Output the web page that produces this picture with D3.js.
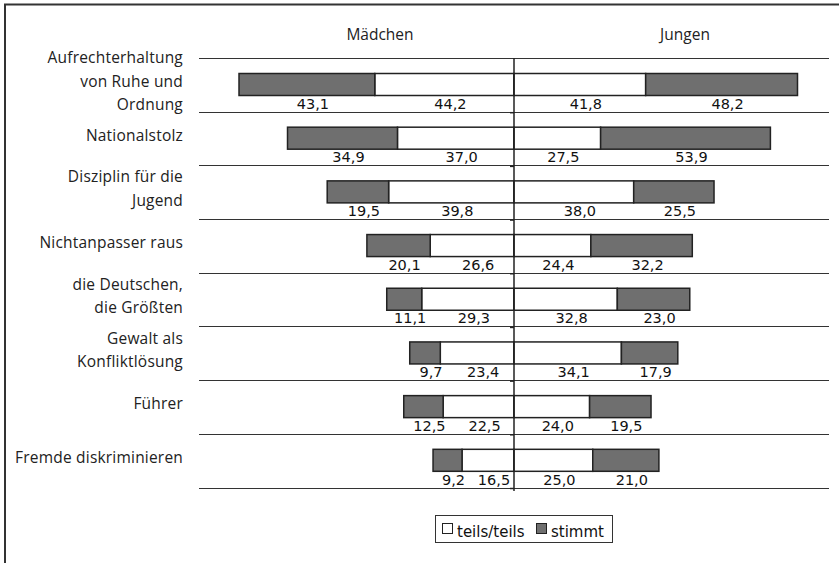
<!DOCTYPE html>
<meta charset="utf-8">
<script src="https://d3js.org/d3.v7.js"></script>
<style>
  body { margin: 0; background: #fff; }
</style>
<svg id="chart" width="839" height="563"></svg>

<script>
  // categories (one array of lines per label)
  const categories = [
    ["Aufrechterhaltung", "von Ruhe und", "Ordnung"],
    ["Nationalstolz"],
    ["Disziplin für die", "Jugend"],
    ["Nichtanpasser raus"],
    ["die Deutschen,", "die Größten"],
    ["Gewalt als", "Konfliktlösung"],
    ["Führer"],
    ["Fremde diskriminieren"]
  ];

  // Mädchen (left side)
  const maedchenStimmt = [43.1, 34.9, 19.5, 20.1, 11.1, 9.7, 12.5, 9.2];
  const maedchenTeils  = [44.2, 37.0, 39.8, 26.6, 29.3, 23.4, 22.5, 16.5];
  // Jungen (right side)
  const jungenTeils  = [41.8, 27.5, 38.0, 24.4, 32.8, 34.1, 24.0, 25.0];
  const jungenStimmt = [48.2, 53.9, 25.5, 32.2, 23.0, 17.9, 19.5, 21.0];

  const groups = ["Mädchen", "Jungen"];
  const legendLabels = ["teils/teils", "stimmt"];

  const width = 839, height = 563;
  const gray = "#6f6f6f";
  const ink = "#222";

  const svg = d3.select("#chart");

  // outer frame (right and bottom run off the picture)
  svg.append("rect")
    .attr("x", 5).attr("y", 4.5)
    .attr("width", 900).attr("height", 700)
    .attr("fill", "none").attr("stroke", "#333").attr("stroke-width", 2);

  const x = d3.scaleLinear().domain([-100, 100]).range([199, 829]);
  const y = d3.scaleBand().domain(d3.range(categories.length)).range([58, 487.5]);
  const bh = 22, bOff = 15.5;

  const fmt = d3.formatLocale({ decimal: ",", thousands: ".", grouping: [3], currency: ["", "€"] }).format(".1f");

  // separator lines
  svg.append("g").selectAll("line")
    .data(d3.range(categories.length + 1))
    .join("line")
    .attr("x1", x(-100)).attr("x2", x(100))
    .attr("y1", i => Math.round(58 + i * y.step()) + 0.5)
    .attr("y2", i => Math.round(58 + i * y.step()) + 0.5)
    .attr("stroke", "#333").attr("stroke-width", 1.2);

  // segments: build stacked pieces from the arrays
  const segs = [];
  categories.forEach((c, i) => {
    segs.push({ i, x0: -maedchenTeils[i], x1: 0, v: maedchenTeils[i], fill: "#fff" });
    segs.push({ i, x0: -maedchenTeils[i] - maedchenStimmt[i], x1: -maedchenTeils[i], v: maedchenStimmt[i], fill: gray });
    segs.push({ i, x0: 0, x1: jungenTeils[i], v: jungenTeils[i], fill: "#fff" });
    segs.push({ i, x0: jungenTeils[i], x1: jungenTeils[i] + jungenStimmt[i], v: jungenStimmt[i], fill: gray });
  });

  svg.append("g").selectAll("rect")
    .data(segs)
    .join("rect")
    .attr("x", d => x(d.x0))
    .attr("y", d => y(d.i) + bOff)
    .attr("width", d => x(d.x1) - x(d.x0))
    .attr("height", bh)
    .attr("fill", d => d.fill)
    .attr("stroke", ink).attr("stroke-width", 1.5);

  // value labels
  svg.append("g").selectAll("text")
    .data(segs)
    .join("text")
    .attr("x", d => (x(d.x0) + x(d.x1)) / 2 + 6)
    .attr("y", d => y(d.i) + y.bandwidth() - 3)
    .attr("text-anchor", "middle")
    .style("font-family", "'DejaVu Sans', sans-serif")
    .style("font-size", "14.5px")
    .attr("fill", "#111")
    .text(d => fmt(d.v));

  // center line with small ticks
  svg.append("line")
    .attr("x1", x(0)).attr("x2", x(0))
    .attr("y1", 58).attr("y2", 491)
    .attr("stroke", ink).attr("stroke-width", 1.5);
  svg.append("g").selectAll("line")
    .data(d3.range(1, categories.length + 1))
    .join("line")
    .attr("x1", x(0) - 4).attr("x2", x(0))
    .attr("y1", i => 58 + i * y.step() + 1)
    .attr("y2", i => 58 + i * y.step() + 1)
    .attr("stroke", ink).attr("stroke-width", 1.5);

  // category labels
  const lh = 23.5;
  const cat = svg.append("g").selectAll("text")
    .data(categories)
    .join("text")
    .attr("text-anchor", "end")
    .style("font-family", "'Open Sans', sans-serif")
    .style("font-size", "15.5px")
    .style("letter-spacing", "0.2px")
    .attr("fill", "#222");
  cat.each(function (lines, i) {
    const cy = y(i) + y.bandwidth() / 2 + 2;
    d3.select(this).selectAll("tspan")
      .data(lines)
      .join("tspan")
      .attr("x", 183)
      .attr("y", (l, k) => cy + (k - (lines.length - 1) / 2) * lh)
      .text(l => l);
  });

  // group headers
  svg.append("g").selectAll("text")
    .data(groups)
    .join("text")
    .attr("x", (d, i) => i === 0 ? 380 : 685)
    .attr("y", 40)
    .attr("text-anchor", "middle")
    .style("font-family", "'Open Sans', sans-serif")
    .style("font-size", "15.5px")
    .attr("fill", "#222")
    .text(d => d);

  // legend
  const lg = svg.append("g");
  lg.append("rect")
    .attr("x", 435.5).attr("y", 515.5).attr("width", 177).attr("height", 27)
    .attr("fill", "#fff").attr("stroke", "#333").attr("stroke-width", 1);
  const lx = [442, 536];
  legendLabels.forEach((t, k) => {
    lg.append("rect")
      .attr("x", lx[k] + 0.5).attr("y", 523.5).attr("width", 10).attr("height", 10)
      .attr("fill", k === 0 ? "#fff" : gray).attr("stroke", ink).attr("stroke-width", 1);
    lg.append("text")
      .attr("x", lx[k] + 15).attr("y", 537)
      .style("font-family", "'DejaVu Sans', sans-serif")
      .style("font-size", "15px")
      .attr("fill", "#111")
      .text(t);
  });
</script>
